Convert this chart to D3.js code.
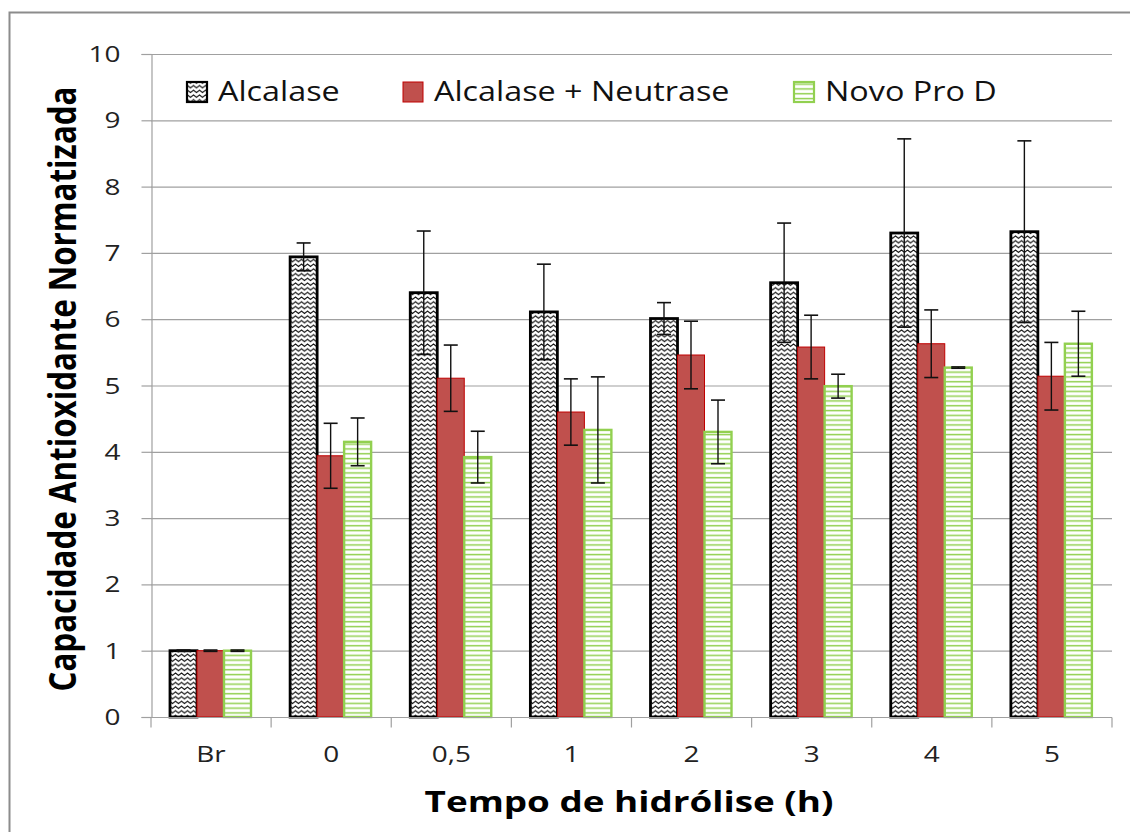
<!DOCTYPE html>
<html><head><meta charset="utf-8">
<script src="https://cdn.jsdelivr.net/npm/d3@7"></script>
<style>body{margin:0;background:#fff}svg{display:block}text{font-family:"Open Sans",sans-serif}</style>
</head><body>
<svg id="c" width="1130" height="832"></svg>
<script>
const categories = ["Br","0","0,5","1","2","3","4","5"];
const seriesNames = ["Alcalase","Alcalase + Neutrase","Novo Pro D"];
const alcalase = [1, 6.94, 6.40, 6.11, 6.01, 6.55, 7.30, 7.32];
const alcalaseErr = [0.01, 0.21, 0.93, 0.72, 0.24, 0.90, 1.42, 1.37];
const neutrase = [1, 3.94, 5.11, 4.60, 5.46, 5.58, 5.63, 5.14];
const neutraseErr = [0.01, 0.49, 0.50, 0.50, 0.51, 0.48, 0.51, 0.51];
const novo = [1, 4.15, 3.92, 4.33, 4.30, 4.99, 5.27, 5.63];
const novoErr = [0.01, 0.36, 0.39, 0.80, 0.48, 0.18, 0.01, 0.49];
const yTicks = [0,1,2,3,4,5,6,7,8,9,10];

const seriesVals = [alcalase, neutrase, novo];
const seriesErrs = [alcalaseErr, neutraseErr, novoErr];

const svg = d3.select("#c");
const defs = svg.append("defs");
const pz = defs.append("pattern").attr("id","zig").attr("patternUnits","userSpaceOnUse")
  .attr("width",6).attr("height",4.7);
pz.append("rect").attr("width",6).attr("height",4.7).attr("fill","#fff");
pz.append("path").attr("d","M-1.5,3.2 L1.5,0.9 L4.5,3.2 L7.5,0.9").attr("fill","none").attr("stroke","#111").attr("stroke-width",1.1);
const pg = defs.append("pattern").attr("id","hz").attr("patternUnits","userSpaceOnUse")
  .attr("width",6).attr("height",4.8);
pg.append("rect").attr("width",6).attr("height",4.8).attr("fill","#fff");
pg.append("rect").attr("y",1.8).attr("width",6).attr("height",1.5).attr("fill","#92D050");

const fills = ["url(#zig)","#C0504D","url(#hz)"];
const strokes = ["#000","#C00000","#92D050"];
const sw = [2.8,1,2.4];

// stretched text helper (reference is horizontally stretched)
function stext(parent, x, y, str, size, sx, anchor, weight, fill){
  return parent.append("text")
    .attr("transform",`translate(${x},${y}) scale(${sx},1)`)
    .attr("text-anchor",anchor).attr("font-size",size)
    .attr("font-weight",weight||"normal").attr("fill",fill||"#222").text(str);
}

// frame
svg.append("rect").attr("x",9.5).attr("y",12.5).attr("width",1140).attr("height",840)
  .attr("fill","none").attr("stroke","#8c8c8c").attr("stroke-width",2);

const x = d3.scaleBand().domain(categories).range([151,1112]).padding(0);
const xs = d3.scaleBand().domain(d3.range(3)).range([19,100]).padding(0);
const y = d3.scaleLinear().domain([0,10]).range([717,54]);

// gridlines
svg.append("g").selectAll("line").data(yTicks.slice(1)).join("line")
  .attr("x1",151).attr("x2",1112).attr("y1",d=>y(d)+0.5).attr("y2",d=>y(d)+0.5)
  .attr("stroke","#a0a0a0").attr("stroke-width",1.2);

// y axis
const ya = svg.append("g").attr("transform","translate(151.5,0)")
  .call(d3.axisLeft(y).tickValues(yTicks).tickSize(10).tickFormat(""));
ya.select(".domain").attr("stroke","#a0a0a0").attr("stroke-width",1.2);
ya.selectAll(".tick line").attr("stroke","#a0a0a0").attr("stroke-width",1.2);
const ylab = svg.append("g");
yTicks.forEach(t=>stext(ylab, 120.5, y(t)+8, d3.format("d")(t), 22, 1.27, "end"));

// bars
const g = svg.append("g");
seriesVals.forEach((vals,si)=>{
  g.append("g").selectAll("rect").data(vals).join("rect")
    .attr("x",(d,i)=>x(categories[i])+xs(si))
    .attr("width",xs.bandwidth())
    .attr("y",d=>y(d))
    .attr("height",d=>y(0)-y(d))
    .attr("fill",fills[si]).attr("stroke",strokes[si]).attr("stroke-width",sw[si]);
});

// x axis
const xa = svg.append("g").attr("transform","translate(0,717.5)");
xa.append("line").attr("x1",151).attr("x2",1112).attr("stroke","#a0a0a0").attr("stroke-width",1.2);
const bounds = categories.map(c=>x(c)).concat([x.range()[1]]);
xa.selectAll("line.t").data(bounds).join("line").attr("class","t")
  .attr("x1",d=>d).attr("x2",d=>d).attr("y1",0).attr("y2",10)
  .attr("stroke","#a0a0a0").attr("stroke-width",1.2);
const xlab = svg.append("g");
categories.forEach(c=>stext(xlab, x(c)+x.bandwidth()/2, 762, c, 22, 1.27, "middle"));

// error bars
const eg = svg.append("g");
seriesVals.forEach((vals,si)=>{
  vals.forEach((v,i)=>{
    const cx = x(categories[i])+xs(si)+xs.bandwidth()/2;
    const e = seriesErrs[si][i];
    const y1 = y(v+e), y2 = y(v-e);
    eg.append("line").attr("x1",cx).attr("x2",cx).attr("y1",y1).attr("y2",y2).attr("stroke","#111").attr("stroke-width",1.4);
    [y1,y2].forEach(yy=>eg.append("line").attr("x1",cx-7).attr("x2",cx+7).attr("y1",yy).attr("y2",yy).attr("stroke","#111").attr("stroke-width",1.6));
  });
});

// legend
const legX = [186,402,793];
const lg = svg.append("g");
seriesNames.forEach((n,i)=>{
  lg.append("rect").attr("x",legX[i]+1).attr("y",82).attr("width",20).attr("height",20)
    .attr("fill",fills[i]).attr("stroke",strokes[i]).attr("stroke-width",i==1?1:2.2);
  stext(lg, legX[i]+32, 100.7, n, 26.5, 1.22, "start", "normal", "#111");
});

// axis titles
svg.append("text").attr("transform","translate(76,389) scale(1.27,1) rotate(-90) scale(1.08,1)")
  .attr("text-anchor","middle")
  .attr("font-size",29).attr("font-weight","bold").attr("fill","#000")
  .text("Capacidade Antioxidante Normatizada");
stext(svg, 629, 812, "Tempo de hidrólise (h)", 29, 1.27, "middle", "bold", "#000");
</script>
</body></html>
